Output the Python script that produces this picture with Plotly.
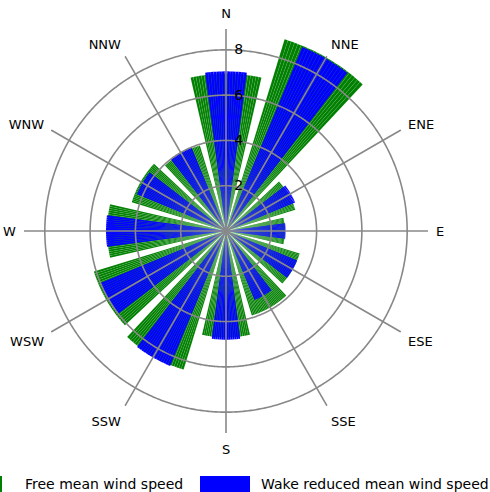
import plotly.graph_objects as go
import numpy as np

# ---- data ----
sectors = ["N", "NNE", "ENE", "E", "ESE", "SSE", "S", "SSW", "WSW", "W", "WNW", "NNW"]
directions = [0, 30, 60, 90, 120, 150, 180, 210, 240, 270, 300, 330]
free_speed = [6.95, 8.85, 3.2, 2.6, 3.4, 3.9, 4.7, 6.4, 6.1, 5.25, 4.35, 3.95]
wake_speed = [7.05, 8.8, 3.3, 2.63, 3.4, 3.3, 4.8, 6.45, 6.0, 5.3, 4.25, 4.0]
radial_ticks = [2, 4, 6, 8]
legend_labels = ["Free mean wind speed", "Wake reduced mean wind speed"]

W, H = 490, 492
RMAX = 8.92
GREEN_W, BLUE_W = 26, 15


def expand(values, width):
    th, r = [], []
    for d, v in zip(directions, values):
        for k in range(width):
            th.append(d - width / 2 + k + 0.5)
            r.append(v)
    return th, r


fig = go.Figure()
gth, gr = expand(free_speed, GREEN_W)
fig.add_trace(go.Barpolar(theta=gth, r=gr, width=1, name=legend_labels[0],
                          marker=dict(color="#008000", line=dict(color="rgba(255,255,255,0.16)", width=0.4)),
                          showlegend=False, hoverinfo="skip"))
bth, br = expand(wake_speed, BLUE_W)
fig.add_trace(go.Barpolar(theta=bth, r=br, width=1, name=legend_labels[1],
                          marker=dict(color="#0000FF", line=dict(color="rgba(255,255,255,0.10)", width=0.4)),
                          showlegend=False, hoverinfo="skip"))

# grid drawn above the bars
grid_col = "#888888"
for a in directions:
    fig.add_trace(go.Scatterpolar(theta=[a, a], r=[0, RMAX], mode="lines",
                                  line=dict(color=grid_col, width=1.6),
                                  showlegend=False, hoverinfo="skip"))
circ = np.linspace(0, 360, 721)
for rt in radial_ticks:
    fig.add_trace(go.Scatterpolar(theta=circ, r=[rt] * len(circ), mode="lines",
                                  line=dict(color=grid_col, width=1.6),
                                  showlegend=False, hoverinfo="skip"))

font = "DejaVu Sans, Verdana, sans-serif"
cx, cy, R = 226, 231, 202
fig.update_layout(
    width=W, height=H,
    margin=dict(l=0, r=0, t=0, b=0),
    paper_bgcolor="white",
    font=dict(family=font, color="black"),
    polar=dict(
        domain=dict(x=[(cx - R) / W, (cx + R) / W], y=[(H - cy - R) / H, (H - cy + R) / H]),
        bgcolor="white",
        barmode="overlay",
        radialaxis=dict(range=[0, RMAX], tickvals=radial_ticks, angle=90, tickangle=90,
                        showline=False, ticks="outside", ticklen=5, tickcolor="rgba(0,0,0,0)",
                        showgrid=False, layer="above traces",
                        tickfont=dict(size=14, color="black", family=font)),
        angularaxis=dict(tickvals=directions, ticktext=sectors, direction="clockwise",
                         rotation=90, showline=False, ticks="outside", ticklen=5,
                         tickcolor="rgba(0,0,0,0)", showgrid=False,
                         tickfont=dict(size=13, color="black", family=font)),
    ),
)

# manual legend at the bottom
sw_h = 16
fig.add_shape(type="rect", xref="paper", yref="paper",
              x0=-48 / W, x1=2 / W, y0=0, y1=sw_h / H,
              fillcolor="#008000", line=dict(width=0))
fig.add_shape(type="rect", xref="paper", yref="paper",
              x0=200 / W, x1=250 / W, y0=0, y1=sw_h / H,
              fillcolor="#0000FF", line=dict(width=0))
fig.add_annotation(xref="paper", yref="paper", x=23 / W, y=8 / H, xanchor="left", yanchor="middle",
                   text=legend_labels[0], showarrow=False, font=dict(size=14, family=font, color="black"))
fig.add_annotation(xref="paper", yref="paper", x=259 / W, y=8 / H, xanchor="left", yanchor="middle",
                   text=legend_labels[1], showarrow=False, font=dict(size=14, family=font, color="black"))

fig.write_html("out.html", config={"displayModeBar": False},
               post_script="document.body.style.margin='0px';document.body.style.overflow='hidden';")
